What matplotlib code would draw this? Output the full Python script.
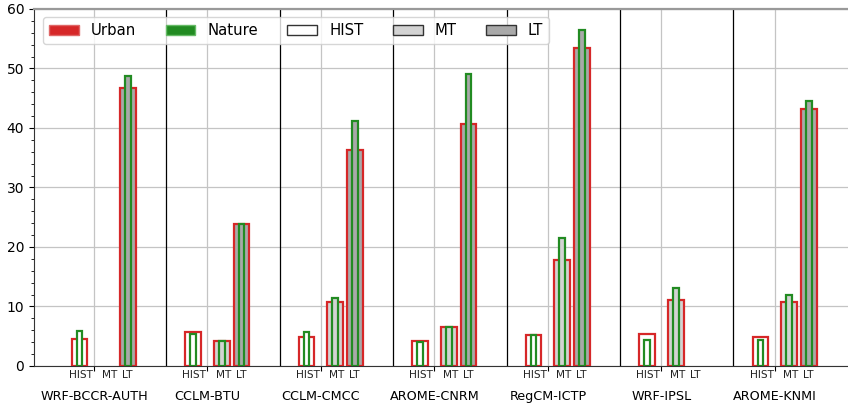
import matplotlib.pyplot as plt
import numpy as np
from matplotlib.patches import Patch
from matplotlib.ticker import MultipleLocator

nan = np.nan

models = ['WRF-BCCR-AUTH', 'CCLM-BTU', 'CCLM-CMCC', 'AROME-CNRM',
          'RegCM-ICTP', 'WRF-IPSL', 'AROME-KNMI']
periods = ['HIST', 'MT', 'LT']

# urban values per period
urban_hist = [4.5, 5.7, 4.9, 4.2, 5.2, 5.4, 4.8]
urban_mt = [nan, 4.2, 10.8, 6.6, 17.8, 11.1, 10.8]
urban_lt = [46.8, 23.9, 36.3, 40.7, 53.4, nan, 43.2]

# nature values per period
nature_hist = [5.8, 5.3, 5.7, 4.0, 5.2, 4.4, 4.4]
nature_mt = [nan, 4.2, 11.4, 6.6, 21.5, 13.1, 12.0]
nature_lt = [48.7, 23.9, 41.2, 49.1, 56.4, nan, 44.5]

urban = [urban_hist, urban_mt, urban_lt]
nature = [nature_hist, nature_mt, nature_lt]

fills = ['white', 'lightgray', 'darkgray']
offsets = [-0.127, 0.126, 0.30]
label_shift = [0.012, 0.015, -0.005]
red = '#d62728'
green = '#228b22'

x = np.arange(len(models))

fig = plt.figure(figsize=(8.48, 4.08), dpi=100)
ax = fig.add_axes([0.040, 0.103, 0.96, 0.875])

for p in range(3):
    ax.bar(x + offsets[p], urban[p], width=0.14, facecolor=fills[p],
           edgecolor=red, linewidth=1.6, zorder=3)
    ax.bar(x + offsets[p], nature[p], width=0.05, facecolor=fills[p],
           edgecolor=green, linewidth=1.6, zorder=4)

# separators between models
for i in range(len(models) - 1):
    ax.axvline(i + 0.635, color='k', linewidth=0.9, zorder=2)

ax.set_xlim(-0.529, len(models) - 1 + 0.644)
ax.set_ylim(0, 60)
ax.yaxis.set_major_locator(MultipleLocator(10))
ax.yaxis.set_minor_locator(MultipleLocator(2))

ax.set_xticks(x)
ax.set_xticklabels(models, fontsize=9.2)
minor_pos = []
minor_lab = []
for i in x:
    for p in range(3):
        minor_pos.append(i + offsets[p] + label_shift[p])
        minor_lab.append(periods[p])
ax.set_xticks(minor_pos, minor=True)
ax.set_xticklabels(minor_lab, minor=True, fontsize=7.6, color='#222222')
ax.tick_params(axis='x', which='minor', length=0, pad=3)
ax.tick_params(axis='x', which='major', length=3.5, pad=14)
ax.tick_params(axis='y', which='major', labelsize=10)
ax.tick_params(axis='y', which='minor', length=2)

ax.grid(True, which='major', color='#c4c4c4', linewidth=0.9)
ax.set_axisbelow(True)

ax.spines['top'].set_color('#999999')
ax.spines['top'].set_linewidth(1.6)
ax.spines['right'].set_visible(False)
ax.spines['left'].set_color('#333333')
ax.spines['bottom'].set_color('#333333')

handles = [
    Patch(facecolor=red, edgecolor='#e06666', label='Urban'),
    Patch(facecolor=green, edgecolor='#66bb66', label='Nature'),
    Patch(facecolor='white', edgecolor='#333333', label='HIST'),
    Patch(facecolor='lightgray', edgecolor='#333333', label='MT'),
    Patch(facecolor='darkgray', edgecolor='#333333', label='LT'),
]
ax.legend(handles=handles, ncol=5, loc='upper left', fontsize=10.7,
          bbox_to_anchor=(0.002, 0.997))

fig.savefig('out.png', dpi=100)
